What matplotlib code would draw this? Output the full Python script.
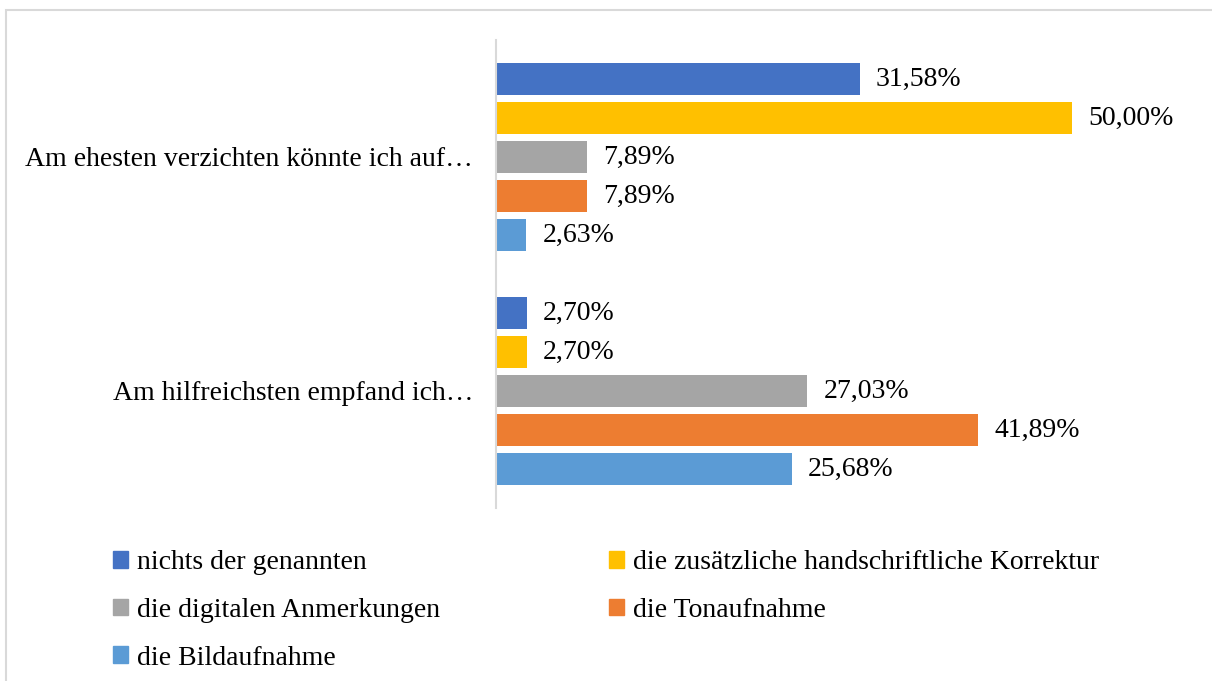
import matplotlib.pyplot as plt
from matplotlib.patches import Patch, Rectangle

categories = ["Am ehesten verzichten könnte ich auf…", "Am hilfreichsten empfand ich…"]
series = ["nichts der genannten", "die zusätzliche handschriftliche Korrektur",
          "die digitalen Anmerkungen", "die Tonaufnahme", "die Bildaufnahme"]
values = {
    "nichts der genannten": [31.58, 2.70],
    "die zusätzliche handschriftliche Korrektur": [50.00, 2.70],
    "die digitalen Anmerkungen": [7.89, 27.03],
    "die Tonaufnahme": [7.89, 41.89],
    "die Bildaufnahme": [2.63, 25.68],
}
colours = ["#4472C4", "#FFC000", "#A5A5A5", "#ED7D31", "#5B9BD5"]

plt.rcParams['font.family'] = ['Liberation Serif', 'DejaVu Serif']
fs = 20

fig = plt.figure(figsize=(12.12, 6.81), dpi=100)
ax = fig.add_axes([496 / 1212, 1 - 508 / 681, 691 / 1212, 468 / 681])

slot = 1 / 6
height = 0.133
for i, name in enumerate(series):
    ys = [c + (i - 2) * slot for c in range(len(categories))]
    bars = ax.barh(ys, values[name], height=height, color=colours[i], label=name)
    for b, v in zip(bars, values[name]):
        ax.text(b.get_width() + 1.4, b.get_y() + b.get_height() / 2,
                "{:.2f}%".format(v).replace(".", ","), va='center', ha='left', fontsize=fs)

ax.set_xlim(0, 60)
ax.set_ylim(1.5, -0.5)
ax.set_yticks(range(len(categories)))
ax.set_yticklabels(categories, fontsize=fs)
ax.tick_params(axis='y', length=0, pad=16.5)
ax.set_xticks([])
for s in ['top', 'right', 'bottom']:
    ax.spines[s].set_visible(False)
ax.spines['left'].set_color('#d9d9d9')
ax.spines['left'].set_linewidth(1.5)

handles = [Patch(color=c) for c in colours]
leg_kw = dict(frameon=False, fontsize=fs, handlelength=0.55, handleheight=0.55,
              handletextpad=0.3, labelspacing=0.82, borderpad=0, borderaxespad=0,
              loc='upper left')
fig.legend([handles[0], handles[2], handles[4]], [series[0], series[2], series[4]],
           bbox_to_anchor=(113 / 1212, 1 - 550 / 681), **leg_kw)
fig.legend([handles[1], handles[3]], [series[1], series[3]],
           bbox_to_anchor=(609 / 1212, 1 - 550 / 681), **leg_kw)

fig.patches.append(Rectangle((6 / 1212, -0.1), 1.2, 1 - 10 / 681 + 0.1,
                             transform=fig.transFigure, fill=False,
                             edgecolor='#d9d9d9', linewidth=1.5))

fig.savefig('out.png', dpi=100)
